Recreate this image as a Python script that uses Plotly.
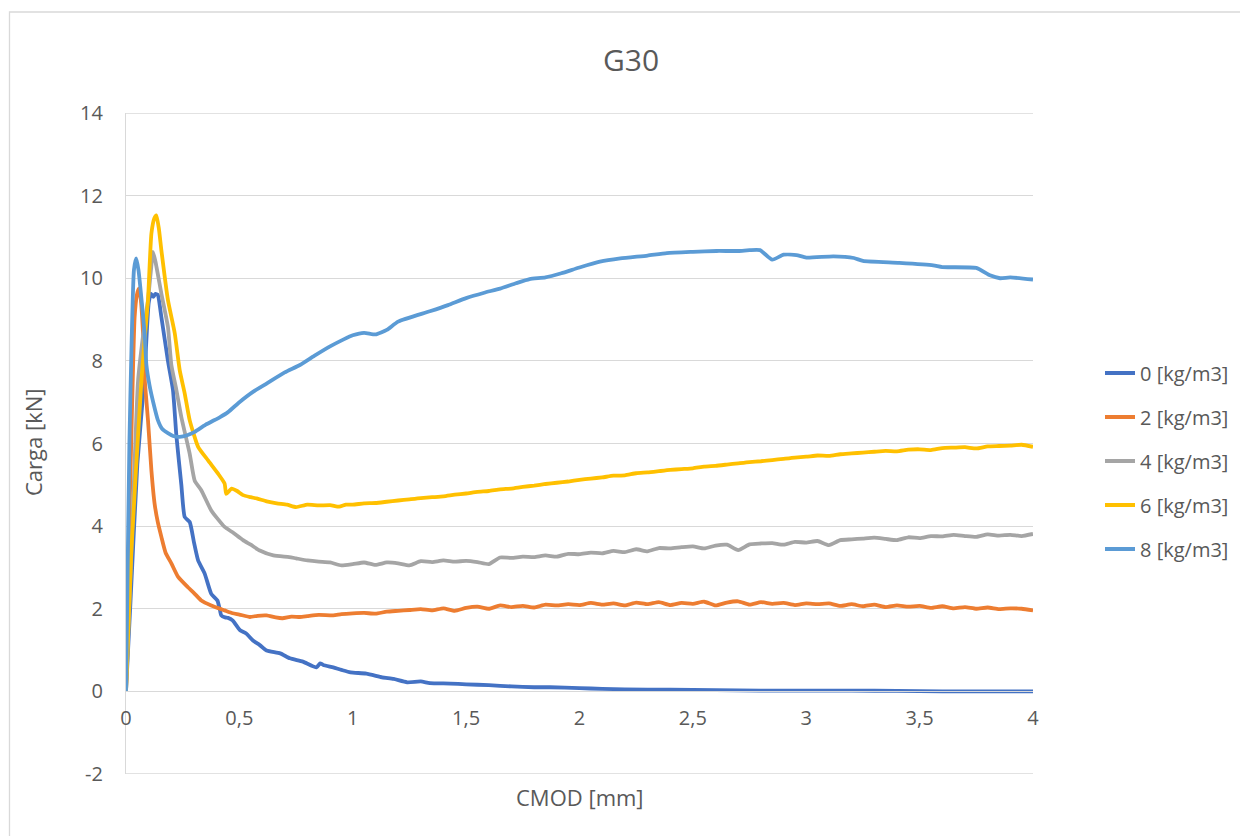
import plotly.graph_objects as go

# ---------------- data ----------------
series_names = ["0 [kg/m3]", "2 [kg/m3]", "4 [kg/m3]", "6 [kg/m3]", "8 [kg/m3]"]

tail_x = [round(1.0 + 0.05 * i, 2) for i in range(61)]  # 1.00 .. 4.00

x0 = [0, 0.02, 0.05, 0.08, 0.1, 0.11, 0.12, 0.13, 0.14, 0.156, 0.185, 0.207, 0.222, 0.244, 0.259,
      0.281, 0.3, 0.318, 0.347, 0.376, 0.403, 0.415, 0.42, 0.437, 0.45, 0.47, 0.503, 0.53, 0.56,
      0.59, 0.62, 0.68, 0.723, 0.78, 0.84, 0.856, 0.87, 0.914, 0.95, 0.99, 1.06, 1.13, 1.18, 1.24,
      1.3, 1.34, 1.43, 1.5, 1.6, 1.7, 1.8, 1.87, 2.0, 2.1, 2.2, 2.4, 2.6, 2.8, 3.0, 3.2, 3.4, 3.6,
      3.8, 4.0]
y0 = [0, 2.2, 5.5, 7.5, 9.4, 9.63, 9.55, 9.62, 9.6, 9.06, 8.0, 7.3, 6.2, 5.0, 4.22,
      4.1, 3.6, 3.17, 2.85, 2.36, 2.2, 1.95, 1.84, 1.79, 1.78, 1.72, 1.48, 1.4, 1.23,
      1.12, 0.99, 0.92, 0.8, 0.72, 0.58, 0.68, 0.64, 0.58, 0.52, 0.46, 0.43, 0.34, 0.3, 0.22,
      0.24, 0.2, 0.19, 0.17, 0.15, 0.12, 0.1, 0.1, 0.08, 0.06, 0.05, 0.04, 0.03, 0.02, 0.02, 0.02,
      0.01, 0.0, 0.0, 0.0]

x2_head = [0, 0.01, 0.025, 0.038, 0.048, 0.056, 0.065, 0.075, 0.082, 0.097, 0.112, 0.126, 0.14,
           0.156, 0.175, 0.2, 0.23, 0.273, 0.3, 0.332, 0.376, 0.435, 0.47, 0.5, 0.547, 0.58, 0.62,
           0.66, 0.69, 0.73, 0.767, 0.8, 0.85, 0.914, 0.95]
y2_head = [0, 3.0, 6.5, 9.06, 9.6, 9.75, 9.5, 8.67, 7.6, 6.56, 5.35, 4.55, 4.1,
           3.74, 3.35, 3.1, 2.77, 2.52, 2.38, 2.2, 2.08, 1.96, 1.89, 1.86, 1.80, 1.83, 1.84,
           1.79, 1.77, 1.81, 1.80, 1.82, 1.85, 1.84, 1.87]
y2_tail = [1.89, 1.90, 1.88, 1.93, 1.95, 1.97, 1.99, 1.96, 2.01, 1.95, 2.02, 2.05, 2.00, 2.08,
           2.04, 2.07, 2.03, 2.10, 2.08, 2.11, 2.09, 2.14, 2.10, 2.13, 2.08, 2.15, 2.11, 2.16,
           2.09, 2.14, 2.12, 2.17, 2.08, 2.15, 2.18, 2.10, 2.16, 2.12, 2.14, 2.09, 2.13, 2.11,
           2.13, 2.07, 2.11, 2.06, 2.10, 2.04, 2.08, 2.05, 2.07, 2.02, 2.06, 2.01, 2.04, 2.00,
           2.03, 1.99, 2.01, 2.00, 1.96]

x4_head = [0, 0.02, 0.053, 0.075, 0.097, 0.11, 0.119, 0.13, 0.156, 0.185, 0.2, 0.222, 0.244,
           0.281, 0.303, 0.332, 0.376, 0.435, 0.47, 0.516, 0.55, 0.59, 0.65, 0.72, 0.75, 0.8,
           0.85, 0.9, 0.95]
y4_head = [0, 2.8, 7.5, 8.6, 9.47, 10.2, 10.64, 10.4, 9.63, 8.82, 7.9, 7.3, 6.64,
           5.75, 5.1, 4.87, 4.38, 3.98, 3.85, 3.66, 3.55, 3.41, 3.29, 3.25, 3.22, 3.17,
           3.14, 3.12, 3.05]
y4_tail = [3.08, 3.12, 3.06, 3.12, 3.10, 3.05, 3.15, 3.13, 3.17, 3.14, 3.16, 3.13, 3.08, 3.24,
           3.23, 3.26, 3.25, 3.29, 3.26, 3.33, 3.32, 3.36, 3.34, 3.40, 3.37, 3.44, 3.39, 3.47,
           3.46, 3.49, 3.51, 3.46, 3.53, 3.55, 3.42, 3.56, 3.58, 3.59, 3.55, 3.62, 3.60, 3.64,
           3.54, 3.66, 3.68, 3.70, 3.72, 3.69, 3.66, 3.73, 3.71, 3.76, 3.75, 3.79, 3.76, 3.74,
           3.80, 3.77, 3.79, 3.76, 3.81]

x6_head = [0, 0.023, 0.068, 0.085, 0.097, 0.112, 0.125, 0.134, 0.145, 0.156, 0.185, 0.215,
           0.237, 0.259, 0.281, 0.318, 0.362, 0.406, 0.435, 0.442, 0.466, 0.49, 0.516, 0.55,
           0.576, 0.62, 0.665, 0.71, 0.75, 0.8, 0.85, 0.9, 0.94, 0.97]
y6_head = [0, 3.34, 7.53, 8.7, 9.47, 11.08, 11.45, 11.52, 11.2, 10.68, 9.47, 8.67,
           7.77, 7.21, 6.56, 5.92, 5.59, 5.27, 5.03, 4.78, 4.91, 4.85, 4.75, 4.70,
           4.67, 4.60, 4.55, 4.52, 4.46, 4.52, 4.50, 4.51, 4.47, 4.52]
y6_tail = [4.52, 4.55, 4.56, 4.59, 4.62, 4.65, 4.68, 4.70, 4.72, 4.76, 4.79, 4.83, 4.85, 4.89,
           4.91, 4.95, 4.98, 5.02, 5.05, 5.08, 5.12, 5.15, 5.18, 5.22, 5.23, 5.28, 5.30, 5.33,
           5.36, 5.38, 5.40, 5.44, 5.46, 5.49, 5.52, 5.55, 5.57, 5.60, 5.63, 5.66, 5.68, 5.71,
           5.70, 5.74, 5.76, 5.78, 5.80, 5.82, 5.81, 5.85, 5.86, 5.84, 5.89, 5.90, 5.91, 5.88,
           5.93, 5.94, 5.95, 5.97, 5.92]

x8 = [0, 0.005, 0.015, 0.025, 0.035, 0.045, 0.055, 0.07, 0.082, 0.09, 0.104, 0.12, 0.141,
      0.16, 0.185, 0.208, 0.237, 0.27, 0.303, 0.35, 0.415, 0.45, 0.5, 0.56, 0.62, 0.7, 0.767,
      0.83, 0.9, 0.96, 1.0, 1.05, 1.1, 1.15, 1.2, 1.34, 1.42, 1.5, 1.58, 1.65, 1.72, 1.78, 1.85,
      1.92, 2.0, 2.09, 2.18, 2.3, 2.385, 2.5, 2.605, 2.7, 2.75, 2.796, 2.85, 2.9, 2.957, 3.0,
      3.12, 3.21, 3.25, 3.41, 3.56, 3.6, 3.75, 3.81, 3.855, 3.9, 4.0]
y8 = [0, 2.0, 6.0, 8.5, 10.2, 10.48, 10.2, 9.4, 8.67, 7.9, 7.4, 7.0, 6.56,
      6.35, 6.25, 6.18, 6.16, 6.2, 6.28, 6.45, 6.64, 6.76, 7.0, 7.25, 7.45, 7.72, 7.9,
      8.12, 8.35, 8.52, 8.62, 8.68, 8.64, 8.75, 8.95, 9.2, 9.35, 9.52, 9.65, 9.75, 9.88, 9.98, 10.02,
      10.12, 10.26, 10.4, 10.48, 10.55, 10.61, 10.64, 10.66, 10.66, 10.68, 10.68, 10.45, 10.57, 10.56, 10.5,
      10.53, 10.49, 10.42, 10.37, 10.31, 10.27, 10.25, 10.07, 10.0, 10.02, 9.97]

x2 = x2_head + tail_x
y2 = y2_head + y2_tail
x4 = x4_head + tail_x
y4 = y4_head + y4_tail
x6 = x6_head + tail_x
y6 = y6_head + y6_tail

xs = [x0, x2, x4, x6, x8]
ys = [y0, y2, y4, y6, y8]
colors = ["#4472C4", "#ED7D31", "#A5A5A5", "#FFC000", "#5B9BD5"]

x_ticks = [0, 0.5, 1, 1.5, 2, 2.5, 3, 3.5, 4]
y_ticks = [-2, 0, 2, 4, 6, 8, 10, 12, 14]
y_tick_labels = ["-2", "0", "2", "4", "6", "8", "10", "12", "14"]
Y_MIN, Y_MAX = -2, 14

# ---------------- figure ----------------
FONT = "'Open Sans', 'Noto Sans', sans-serif"
TXT = "#595959"
GRID = "#d9d9d9"

# page has an 8px body margin: work in page pixels, then subtract it
OFF = 8
W, H = 1248 - OFF, 836 - OFF
PL, PR, PT, PB = 126, 1033, 113, 774          # plot box in page pixels
L, R, T, B = PL - OFF, W - (PR - OFF), PT - OFF, H - (PB - OFF)
plot_w = PR - PL
plot_h = PB - PT


def px(xp):
    return (xp - PL) / plot_w


def py(yp):
    return (PB - yp) / plot_h


fig = go.Figure()
for name, xv, yv, c in zip(series_names, xs, ys, colors):
    fig.add_trace(go.Scatter(
        x=xv, y=yv, mode="lines", name=name, legendgroup=name,
        line=dict(color=c, width=3.8, shape="spline", smoothing=0.5),
        hoverinfo="skip",
    ))

fig.update_layout(
    width=W, height=H,
    margin=dict(l=L, r=R, t=T, b=B),
    paper_bgcolor="white", plot_bgcolor="white",
    separators=",.",
    font=dict(family=FONT, color=TXT, size=20),
    title=dict(text="G30", x=(631 - OFF) / W, xref="container", y=1 - (60 - OFF) / H,
               yref="container", xanchor="center", yanchor="middle",
               font=dict(size=30, color=TXT, family=FONT)),
    xaxis=dict(range=[0, 4], tickvals=x_ticks, showgrid=False, zeroline=False,
               showline=True, linecolor=GRID, linewidth=1.3, ticks="",
               anchor="free", position=(0 - Y_MIN) / (Y_MAX - Y_MIN), ticklabelstandoff=8,
               tickfont=dict(size=20, color=TXT, family=FONT)),
    yaxis=dict(range=[Y_MIN, Y_MAX], tickvals=y_ticks, ticktext=y_tick_labels,
               showgrid=True, gridcolor=GRID,
               gridwidth=1.3, zeroline=False, showline=True, linecolor=GRID,
               linewidth=1.3, ticks="", ticklabelstandoff=18,
               tickfont=dict(size=20, color=TXT, family=FONT)),
    showlegend=True,
    legend=dict(x=px(1100), y=py(461), xanchor="left",
                yanchor="middle", tracegroupgap=15, font=dict(size=20, color=TXT, family=FONT),
                bgcolor="rgba(0,0,0,0)"),
)

# gridlines at the range ends (top and bottom of the plot box)
for yv in (Y_MIN, Y_MAX):
    fig.add_shape(type="line", xref="paper", yref="y", x0=0, x1=1, y0=yv, y1=yv,
                  line=dict(color=GRID, width=1.3), layer="below")

fig.add_annotation(text="CMOD [mm]", xref="paper", yref="paper", x=px(580), y=py(797),
                   xanchor="center", yanchor="middle", showarrow=False,
                   font=dict(size=22, color=TXT, family=FONT))
fig.add_annotation(text="Carga [kN]", xref="paper", yref="paper", x=px(33),
                   y=py(443), xanchor="center", yanchor="middle", textangle=-90, showarrow=False,
                   font=dict(size=22, color=TXT, family=FONT))

# outer chart border
fig.add_shape(type="rect", xref="paper", yref="paper",
              x0=px(9.5), x1=px(1300), y0=py(12), y1=py(900),
              line=dict(color=GRID, width=1.3), fillcolor="rgba(0,0,0,0)", layer="below")

fig.write_html("out.html")
